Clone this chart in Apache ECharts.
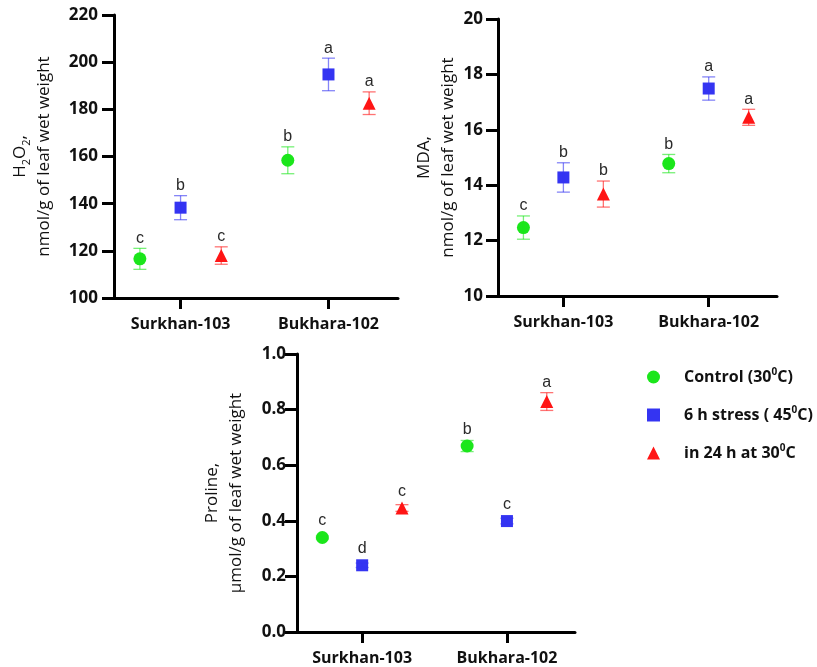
<!DOCTYPE html>
<html><head><meta charset="utf-8">
<script src="https://cdn.jsdelivr.net/npm/echarts@6/dist/echarts.min.js"></script>
<style>html,body{margin:0;padding:0;background:#fff}#c{width:817px;height:667px}</style>
</head><body><div id="c"></div>
<script>
// ---- data ----
const categories = ['Surkhan-103', 'Bukhara-102'];
const treatments = ['Control (30°C)', '6 h stress ( 45°C)', 'in 24 h at 30°C'];

// indexed [treatment][cultivar]
const h2o2Mean = [[116.6, 158.4], [138.3, 194.8], [118.0, 182.6]];
const h2o2Err  = [[4.45, 5.7], [5.1, 6.9], [3.7, 4.8]];
const h2o2Sig  = [['c', 'b'], ['b', 'a'], ['c', 'a']];

const mdaMean = [[12.47, 14.78], [14.28, 17.49], [13.68, 16.45]];
const mdaErr  = [[0.42, 0.33], [0.53, 0.42], [0.47, 0.29]];
const mdaSig  = [['c', 'b'], ['b', 'a'], ['b', 'a']];

const prolineMean = [[0.34, 0.669], [0.24, 0.399], [0.446, 0.829]];
const prolineErr  = [[0.005, 0.02], [0.008, 0.01], [0.012, 0.032]];
const prolineSig  = [['c', 'b'], ['d', 'c'], ['c', 'a']];

const h2o2Axis = { min: 100, max: 220, interval: 20 };
const mdaAxis = { min: 10, max: 20, interval: 2 };
const prolineAxis = { min: 0, max: 1.0, interval: 0.2 };

// ---- styling ----
const colors = ['#1be61b', '#3434f2', '#ff1515'];
const symbols = ['circle', 'rect', 'triangle'];
const symbolSizes = [13, 12, 13];
const groupOffset = [-0.275, 0, 0.275];
const tickFont = 'Open Sans';

const panels = [
  { mean: h2o2Mean, err: h2o2Err, sig: h2o2Sig, axis: h2o2Axis,
    grid: { left: 114, top: 15, width: 284, height: 283 },
    name: 'H{sub|2}O{sub|2},\nnmol/g of leaf wet weight', nameGap: 58, labelMargin: 16, dec: 0 },
  { mean: mdaMean, err: mdaErr, sig: mdaSig, axis: mdaAxis,
    grid: { left: 498, top: 19, width: 279, height: 277 },
    name: 'MDA,\nnmol/g of leaf wet weight', nameGap: 33, labelMargin: 15, dec: 0 },
  { mean: prolineMean, err: prolineErr, sig: prolineSig, axis: prolineAxis,
    grid: { left: 297, top: 354, width: 278, height: 278 },
    name: 'Proline,\nµmol/g of leaf wet weight', nameGap: 49, labelMargin: 11, dec: 1 }
];

const grids = [], xAxes = [], yAxes = [], series = [];
panels.forEach((p, gi) => {
  grids.push(p.grid);
  xAxes.push({
    type: 'value', gridIndex: gi, min: -0.45, max: 1.47,
    axisLine: { show: true, onZero: false, lineStyle: { color: '#000', width: 3 } },
    axisTick: { show: true, length: 11, lineStyle: { color: '#000', width: 3 }, customValues: [0, 1] },
    axisLabel: { customValues: [0, 1], formatter: v => categories[Math.round(v)], margin: 18,
      fontFamily: tickFont, fontWeight: 'bold', fontSize: 16, color: '#111' },
    splitLine: { show: false }
  });
  yAxes.push({
    type: 'value', gridIndex: gi, min: p.axis.min, max: p.axis.max, interval: p.axis.interval,
    axisLine: { show: true, onZero: false, lineStyle: { color: '#000', width: 3 } },
    axisTick: { show: true, length: 12, lineStyle: { color: '#000', width: 3 } },
    axisLabel: { margin: p.labelMargin, formatter: v => v.toFixed(p.dec),
      fontFamily: tickFont, fontWeight: 'bold', fontSize: 17, color: '#111' },
    splitLine: { show: false },
    name: p.name, nameLocation: 'middle', nameRotate: 90, nameGap: p.nameGap,
    nameTextStyle: { fontFamily: tickFont, fontSize: 17, color: '#111', lineHeight: 24,
      rich: { sub: { fontFamily: tickFont, fontSize: 11, color: '#111', verticalAlign: 'bottom', lineHeight: 21 } } }
  });
  treatments.forEach((t, ti) => {
    series.push({
      type: 'scatter', name: t, xAxisIndex: gi, yAxisIndex: gi,
      symbol: symbols[ti], symbolSize: symbolSizes[ti],
      itemStyle: { color: colors[ti], opacity: 1 },
      data: categories.map((c, ci) => [ci + groupOffset[ti], p.mean[ti][ci]]),
      z: 2
    });
  });
  treatments.forEach((t, ti) => {
    series.push({
      type: 'custom', name: 'err-' + gi + '-' + ti, xAxisIndex: gi, yAxisIndex: gi, z: 3,
      data: categories.map((c, ci) => [ci + groupOffset[ti], p.mean[ti][ci], p.err[ti][ci]]),
      renderItem: (params, api) => {
        const x = api.value(0), y = api.value(1), e = api.value(2);
        const c = api.coord([x, y]), top = api.coord([x, y + e]), bot = api.coord([x, y - e]);
        const hw = 6.5;
        const st = { stroke: colors[ti], lineWidth: 1.3, opacity: 0.6 };
        const letterY = Math.min(top[1], c[1] - 6.5) - 10;
        return { type: 'group', children: [
          { type: 'line', shape: { x1: c[0], y1: top[1], x2: c[0], y2: bot[1] }, style: st },
          { type: 'line', shape: { x1: c[0] - hw, y1: top[1], x2: c[0] + hw, y2: top[1] }, style: st },
          { type: 'line', shape: { x1: c[0] - hw, y1: bot[1], x2: c[0] + hw, y2: bot[1] }, style: st },
          { type: 'text', style: { text: p.sig[ti][params.dataIndex], x: c[0], y: letterY,
              align: 'center', verticalAlign: 'middle', fontFamily: 'Liberation Sans', fontSize: 16, fill: '#2a2a2a' } }
        ] };
      }
    });
  });
});

const chart = echarts.init(document.getElementById('c'), null, { renderer: 'canvas' });
chart.setOption({
  backgroundColor: '#fff',
  animation: false,
  grid: grids, xAxis: xAxes, yAxis: yAxes, series: series,
  legend: {
    data: treatments, orient: 'vertical', left: 642, top: 362,
    itemWidth: 13, itemHeight: 13, itemGap: 18,
    formatter: n => n.replace('°', '{s|0}'),
    textStyle: { fontFamily: tickFont, fontWeight: 'bold', fontSize: 16, color: '#111', lineHeight: 20,
      padding: [0, 0, 0, 19],
      rich: { s: { fontFamily: tickFont, fontWeight: 'bold', fontSize: 10, color: '#111', verticalAlign: 'top', lineHeight: 14 } } }
  }
});
</script></body></html>
